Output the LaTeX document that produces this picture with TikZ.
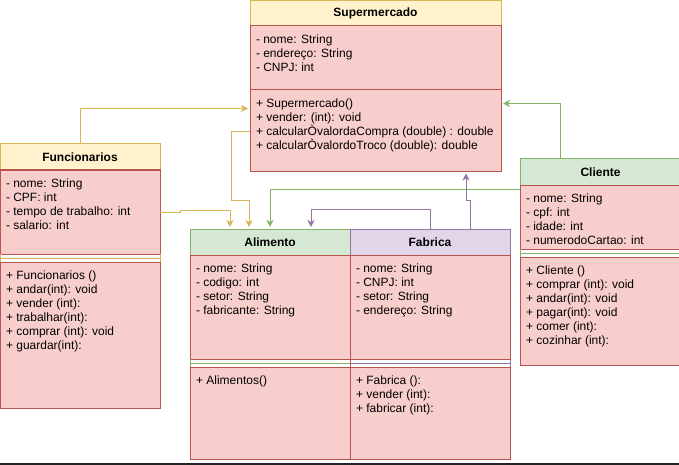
\documentclass[tikz,border=0pt]{standalone}
\usepackage{fontspec}
\setmainfont{Liberation Sans}
\usetikzlibrary{positioning,arrows.meta}

\definecolor{ylwF}{HTML}{FFF2CC}
\definecolor{ylwD}{HTML}{D6B656}
\definecolor{redF}{HTML}{F8CECC}
\definecolor{redD}{HTML}{B85450}
\definecolor{grnF}{HTML}{D5E8D4}
\definecolor{grnD}{HTML}{82B366}
\definecolor{purF}{HTML}{E1D5E7}
\definecolor{purD}{HTML}{9673A6}
\definecolor{barC}{HTML}{232323}

\tikzset{
  every node/.style={font=\fontsize{12}{14}\selectfont, outer sep=0},
  hdr/.style 2 args={draw=#2, fill=#1, line width=1pt, minimum height=26, inner sep=0,
    font=\fontsize{12}{14}\selectfont\bfseries},
  sect/.style={draw=redD, fill=redF, line width=1pt, inner sep=0},
  txt/.style={anchor=north west, align=left, inner xsep=6, inner ysep=9},
  assoc/.style={-{Stealth[length=7pt, width=7pt, inset=2pt]}, line width=1pt, shorten >=2pt},
}

\begin{document}
\begin{tikzpicture}[x=1pt, y=-1pt]
  \useasboundingbox (0,0) rectangle (679,465);

  \node[hdr={ylwF}{ylwD}, minimum width=251, minimum height=25, anchor=north west] (sm) at (250,0.5) {Supermercado};
  \node[sect, minimum width=251, minimum height=64, below=0pt of sm,
    label={[txt]north west:{- nome: String\\- endereço: String\\- CNPJ: int}}] (smA) {};
  \node[sect, minimum width=251, minimum height=82, below=0pt of smA,
    label={[txt]north west:{+ Supermercado()\\+ vender: (int): void\\+ calcularÒvalordaCompra (double) : double\\+ calcularÒvalordoTroco (double): double}}] (smM) {};

  \node[hdr={ylwF}{ylwD}, minimum width=160, anchor=north west] (fn) at (0,144) {Funcionarios};
  \node[sect, minimum width=160, minimum height=84, below=0pt of fn,
    label={[txt]north west:{- nome: String\\- CPF: int\\- tempo de trabalho: int\\- salario: int}}] (fnA) {};
  \node[sect, minimum width=160, minimum height=146, below=8pt of fnA,
    label={[txt]north west:{+ Funcionarios ()\\+ andar(int): void\\+ vender (int):\\+ trabalhar(int):\\+ comprar (int): void\\+ guardar(int):}}] (fnM) {};

  \node[hdr={grnF}{grnD}, minimum width=160, anchor=north west] (al) at (190,229) {Alimento};
  \node[sect, minimum width=160, minimum height=104, below=0pt of al,
    label={[txt]north west:{- nome: String\\- codigo: int\\- setor: String\\- fabricante: String}}] (alA) {};
  \node[sect, minimum width=160, minimum height=92, below=8pt of alA,
    label={[txt]north west:{+ Alimentos()}}] (alM) {};

  \node[hdr={purF}{purD}, minimum width=160, right=0pt of al] (fb) {Fabrica};
  \node[sect, minimum width=160, minimum height=104, below=0pt of fb,
    label={[txt]north west:{- nome: String\\- CNPJ: int\\- setor: String\\- endereço: String}}] (fbA) {};
  \node[sect, minimum width=160, minimum height=92, below=8pt of fbA,
    label={[txt]north west:{+ Fabrica ():\\+ vender (int):\\+ fabricar (int):}}] (fbM) {};

  \node[hdr={grnF}{grnD}, minimum width=161, anchor=north west, text width=160, align=center] (cl) at (520,159) {Cliente};
  \node[sect, minimum width=161, minimum height=64, below=0pt of cl,
    label={[txt]north west:{- nome: String\\- cpf: int\\- idade: int\\- numerodoCartao: int}}] (clA) {};
  \node[sect, minimum width=161, minimum height=108, below=8pt of clA,
    label={[txt]north west:{+ Cliente ()\\+ comprar (int): void\\+ andar(int): void\\+ pagar(int): void\\+ comer (int):\\+ cozinhar (int):}}] (clM) {};

  \draw[ylwD, line width=1pt] (fnA.south west) -- (fnM.north west) (fnA.south east) -- (fnM.north east)
    ([yshift=-4pt]fnA.south west) -- ([yshift=-4pt]fnA.south east);
  \draw[grnD, line width=1pt] (alA.south west) -- (alM.north west)
    ([yshift=-4pt]alA.south west) -- ([yshift=-4pt]alA.south east);
  \draw[purD, line width=1pt] (fbA.south east) -- (fbM.north east)
    ([yshift=-4pt]fbA.south west) -- ([yshift=-4pt]fbA.south east);
  \draw[redD, line width=1pt] (alA.south east) -- (alM.north east);
  \draw[grnD, line width=1pt] (clA.south west) -- (clM.north west)
    ([yshift=-4pt]clA.south west) -- ([yshift=-4pt]clA.south east);

  \draw[assoc, ylwD] (fn.north) |- ([yshift=-19pt]smM.north west);
  \draw[assoc, ylwD] ([yshift=-42pt]smM.north west) -- ++(-19,0) |- ([xshift=59pt, yshift=29pt]al.north west) -- ([xshift=59pt]al.north west);
  \draw[assoc, ylwD] (fnA.east) -- ++(20,0) |- ([xshift=40pt, yshift=19pt]al.north west) -- ([xshift=40pt]al.north west);
  \draw[assoc, grnD] ([yshift=-4pt]clA.north west) -| (al.north);
  \draw[assoc, grnD] ([xshift=40pt]cl.north west) |- ([yshift=-14pt]smM.north east);
  \draw[assoc, purD] (fb.north) |- ([xshift=-39pt, yshift=20pt]fb.north west) -- ([xshift=-39pt]fb.north west);
  \draw[assoc, purD] ([xshift=120pt]fb.north west) |- ([xshift=216pt, yshift=-29pt]smM.south west) -- ([xshift=216pt]smM.south west);

  \fill[barC] (0,463) rectangle (679,465);
\end{tikzpicture}
\end{document}
